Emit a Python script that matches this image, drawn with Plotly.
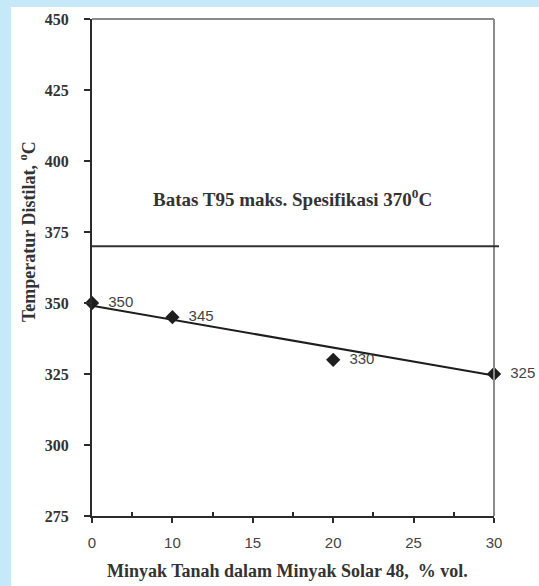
import plotly.graph_objects as go

# ---- data ----
x_tick_labels = ["0", "10", "15", "20", "25", "30"]
kerosene_pct = [0, 10, 20, 30]
t95_values = [350, 345, 330, 325]
trend_ends = [349, 324.5]          # trendline values at first / last point
spec_limit = 370
y_ticks = [275, 300, 325, 350, 375, 400, 425, 450]

# positions on the (evenly spaced) printed axis
pos = [x_tick_labels.index(str(v)) for v in kerosene_pct]
trend_pos = [pos[0], pos[-1]]

W, H = 539, 586
L, R, T, B = 92, 494, 19, 516

def px2paper_x(p):
    return (p - L) / (R - L)

def px2paper_y(p):
    return (B - p) / (B - T)

serif = "Liberation Serif"
sans = "Liberation Sans"
dark = "#2b2b2b"

fig = go.Figure()

fig.add_trace(go.Scatter(
    x=trend_pos, y=trend_ends, mode="lines",
    line=dict(color="#1e1e1e", width=2), hoverinfo="skip", cliponaxis=False,
    showlegend=False))

fig.add_trace(go.Scatter(
    x=pos, y=t95_values, mode="markers+text",
    marker=dict(symbol="diamond", size=11, color="#1e1e1e"),
    text=["  " + str(v) for v in t95_values],
    textposition="middle right",
    textfont=dict(family=sans, size=15, color="#444444"),
    cliponaxis=False, showlegend=False))

shapes = [
    # white page over light-blue border
    dict(type="rect", xref="paper", yref="paper",
         x0=px2paper_x(11), x1=px2paper_x(545), y0=px2paper_y(7), y1=px2paper_y(600),
         fillcolor="white", line=dict(width=0), layer="below"),
    # top and right frame
    dict(type="line", xref="paper", yref="paper", x0=0, x1=1, y0=1, y1=1,
         line=dict(color="#8a8a8a", width=2)),
    dict(type="line", xref="paper", yref="paper", x0=1, x1=1, y0=0, y1=1,
         line=dict(color="#8a8a8a", width=2)),
    # specification limit
    dict(type="line", xref="paper", yref="y", x0=0, x1=px2paper_x(499),
         y0=spec_limit, y1=spec_limit, line=dict(color="#333333", width=2)),
]

annotations = [
    dict(text="<b>Batas T95 maks. Spesifikasi 370<sup>0</sup>C</b>", xref="paper", yref="paper",
         x=px2paper_x(292), y=px2paper_y(198), showarrow=False,
         font=dict(family=serif, size=19, color="#333333"), xanchor="center", yanchor="middle"),
    dict(text="<b>Temperatur Distilat, <sup>o</sup>C</b>", xref="paper", yref="paper",
         x=px2paper_x(27), y=px2paper_y(232), showarrow=False, textangle=-90,
         font=dict(family=serif, size=18, color="#333333"), xanchor="center", yanchor="middle"),
    dict(text="<b>Minyak Tanah dalam Minyak Solar 48,  % vol.</b>", xref="paper", yref="paper",
         x=px2paper_x(287), y=px2paper_y(571), showarrow=False,
         font=dict(family=serif, size=18, color="#333333"), xanchor="center", yanchor="middle"),
]

fig.update_layout(
    width=W, height=H,
    margin=dict(l=L, r=W - R, t=T, b=H - B, pad=0),
    paper_bgcolor="#c6e9f9", plot_bgcolor="white",
    shapes=shapes, annotations=annotations,
    xaxis=dict(range=[0, len(x_tick_labels) - 1], tickvals=list(range(len(x_tick_labels))),
               ticktext=x_tick_labels, showgrid=False, zeroline=False,
               showline=True, linecolor=dark, linewidth=2,
               ticks="outside", ticklen=5, tickwidth=2, tickcolor=dark,
               ticklabelstandoff=7,
               tickfont=dict(family=sans, size=15, color="#444444"),
               minor=dict(tickvals=[i + 0.5 for i in range(len(x_tick_labels) - 1)],
                          ticks="inside", ticklen=4, tickwidth=2, tickcolor=dark)),
    yaxis=dict(range=[y_ticks[0], y_ticks[-1]], tickvals=y_ticks, showgrid=False, zeroline=False,
               showline=True, linecolor=dark, linewidth=2,
               ticks="outside", ticklen=6, tickwidth=2, tickcolor=dark,
               ticklabelstandoff=12,
               tickfont=dict(family=serif, size=16, color="#333333", weight="bold")),
)

fig.write_html("out.html", config={"displayModeBar": False},
               post_script="document.body.style.margin='0';document.body.style.overflow='hidden';")
